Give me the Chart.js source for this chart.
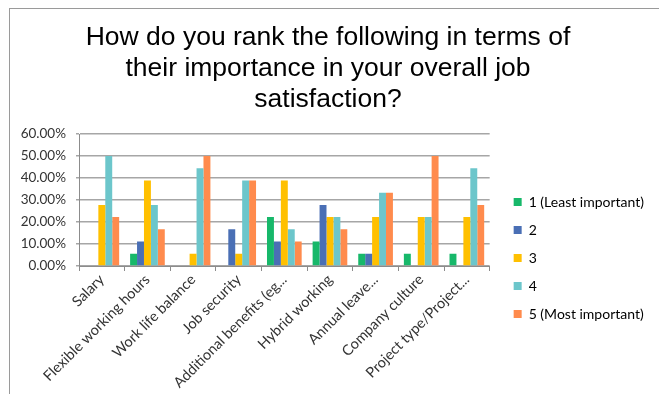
<!DOCTYPE html>
<html>
<head>
<meta charset="utf-8">
<script src="https://cdn.jsdelivr.net/npm/chart.js@4.4.1/dist/chart.umd.min.js"></script>
<style>
  html, body { margin:0; padding:0; background:#fff; }
  #wrap { position:relative; width:659px; height:394px; overflow:hidden; }
  #frame { position:absolute; left:9px; top:8px; right:-2px; bottom:-2px;
           border-left:1px solid #9a9a9a; border-top:1px solid #9a9a9a; }
  #c { position:absolute; left:0; top:0; }
</style>
</head>
<body>
<div id="wrap">
  <div id="frame"></div>
  <canvas id="c" width="659" height="394"></canvas>
</div>
<script>
// categories (Excel truncates the long ones)
const categories = ['Salary', 'Flexible working hours', 'Work life balance', 'Job security',
  'Additional benefits (eg...', 'Hybrid working', 'Annual leave...', 'Company culture',
  'Project type/Project...'];

const seriesNames = ['1 (Least important)', '2', '3', '4', '5 (Most important)'];
const seriesColors = ['#17b86a', '#4a6fb5', '#ffc000', '#6cc6cb', '#ff8b4d'];

// share of responses per rank (fractions, shown as %)
const rank1 = [0,      0.0556, 0,      0,      0.2222, 0.1111, 0.0556, 0.0556, 0.0556];
const rank2 = [0,      0.1111, 0,      0.1667, 0.1111, 0.2778, 0.0556, 0,      0];
const rank3 = [0.2778, 0.3889, 0.0556, 0.0556, 0.3889, 0.2222, 0.2222, 0.2222, 0.2222];
const rank4 = [0.5,    0.2778, 0.4444, 0.3889, 0.1667, 0.2222, 0.3333, 0.2222, 0.4444];
const rank5 = [0.2222, 0.1667, 0.5,    0.3889, 0.1111, 0.1667, 0.3333, 0.5,    0.2778];

const yTicks = [0, 0.1, 0.2, 0.3, 0.4, 0.5, 0.6];

const titleLines = ['How do you rank the following in terms of',
  'their importance in your overall job', 'satisfaction?'];

const FONT = 'Lato';
const rows = [rank1, rank2, rank3, rank4, rank5];

// nudge the legend block (and title) the way Excel places them
const legendShift = {
  id: 'legendShift',
  afterLayout(chart) {
    const lg = chart.legend;
    if (lg) {
      lg.left += 10; lg.right += 10;
      lg.top += 61; lg.bottom += 61;
    }
    const tb = chart.titleBlock;
    if (tb) { tb.left += 6; tb.right += 6; }
  }
};

new Chart(document.getElementById('c'), {
  type: 'bar',
  data: {
    labels: categories,
    datasets: rows.map((d, i) => ({
      label: seriesNames[i],
      data: d,
      backgroundColor: seriesColors[i],
      borderWidth: 0,
      categoryPercentage: 0.76,
      barPercentage: 1
    }))
  },
  options: {
    responsive: false,
    animation: false,
    devicePixelRatio: 1,
    layout: { padding: { left: 0, right: 15, top: 0, bottom: 0 } },
    plugins: {
      tooltip: { enabled: false },
      title: {
        display: true,
        text: titleLines,
        color: '#000',
        font: { family: 'Liberation Sans', size: 26.5, weight: 'normal', lineHeight: 1.17 },
        padding: { top: 22.5, bottom: 18.5 }
      },
      legend: {
        position: 'right',
        maxWidth: 165,
        labels: {
          boxWidth: 8, boxHeight: 8,
          padding: 14,
          color: '#000',
          font: { family: FONT, size: 14 }
        }
      }
    },
    scales: {
      x: {
        afterFit: s => { s.height = 128; },
        grid: { display: true, drawOnChartArea: false, tickLength: 5, color: '#8c8c8c' },
        border: { color: '#8c8c8c' },
        ticks: {
          minRotation: 45, maxRotation: 45, padding: 0,
          color: '#333', font: { family: FONT, size: 14.5 }
        }
      },
      y: {
        min: 0, max: 0.6,
        afterFit: s => { s.width = 79; },
        afterBuildTicks: s => { s.ticks = yTicks.map(v => ({ value: v })); },
        grid: { color: '#a6a6a6', lineWidth: 1.5, tickLength: 3 },
        border: { color: '#8c8c8c' },
        ticks: {
          padding: 10,
          color: '#333', font: { family: FONT, size: 13.5 },
          callback: v => (v * 100).toFixed(2) + '%'
        }
      }
    }
  },
  plugins: [legendShift]
});
</script>
</body>
</html>
